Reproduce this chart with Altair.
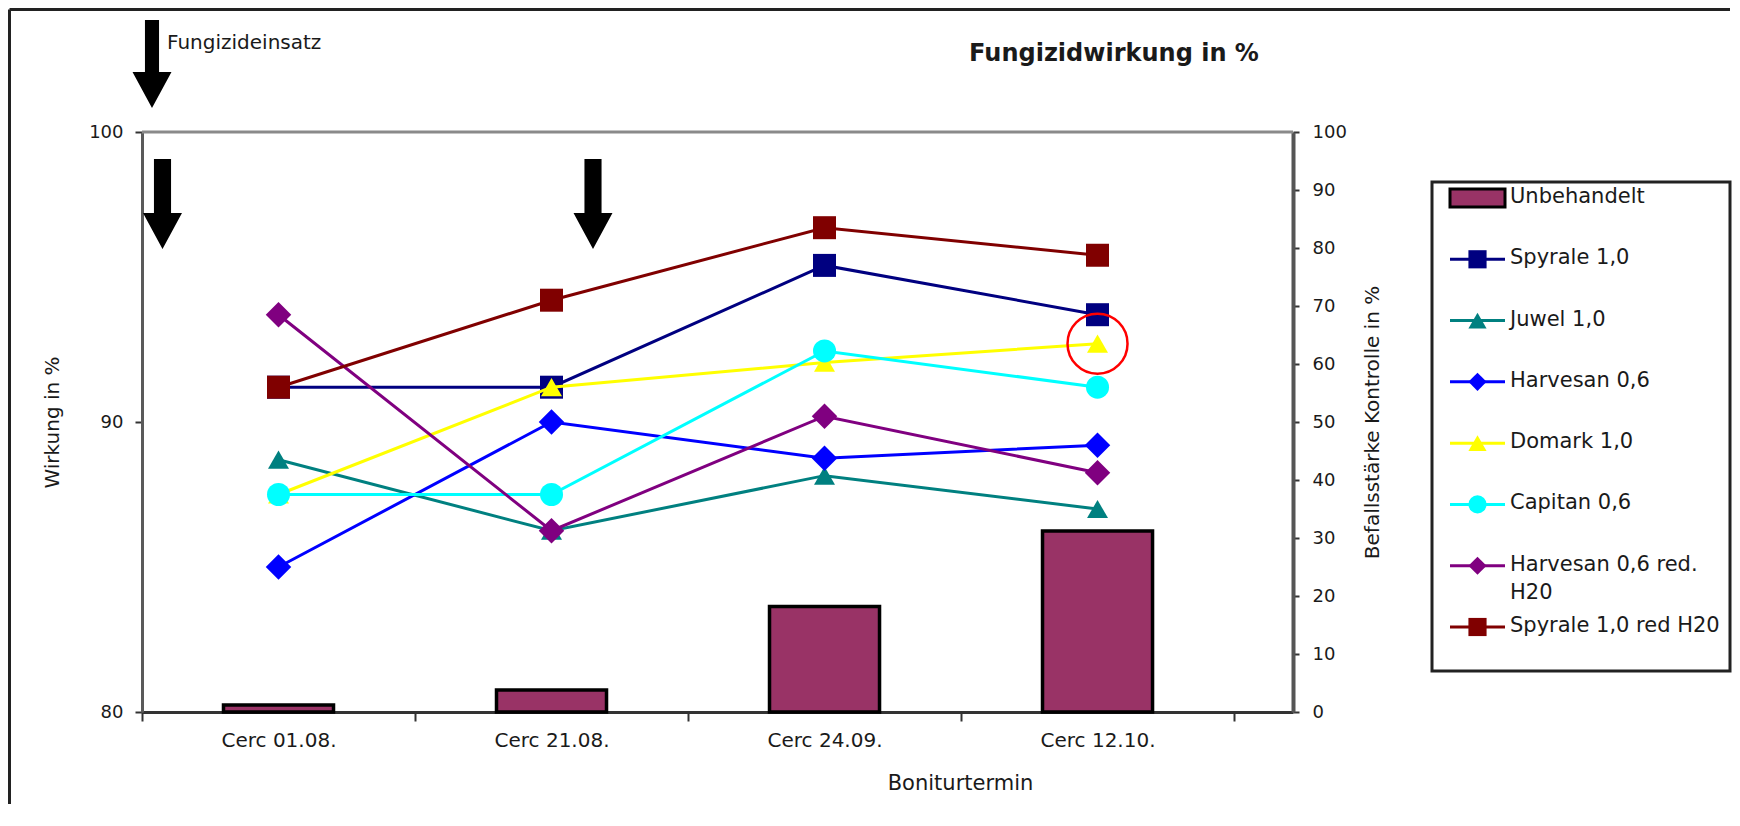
import altair as alt
import pandas as pd

# ---------------- data ----------------
categories = ["Cerc 01.08.", "Cerc 21.08.", "Cerc 24.09.", "Cerc 12.10."]
bar_name = "Unbehandelt"
unbehandelt = [1.2, 3.8, 18.2, 31.2]

series_names = ["Spyrale 1,0", "Juwel 1,0", "Harvesan 0,6", "Domark 1,0",
                "Capitan 0,6", "Harvesan 0,6 red. H20", "Spyrale 1,0 red H20"]
spyrale = [91.2, 91.2, 95.4, 93.7]
juwel = [88.7, 86.25, 88.15, 87.0]
harvesan = [85.0, 90.0, 88.75, 89.2]
domark = [87.5, 91.2, 92.05, 92.7]
capitan = [87.5, 87.5, 92.45, 91.2]
harvesan_red = [93.7, 86.25, 90.2, 88.25]
spyrale_red = [91.2, 94.2, 96.7, 95.75]
series_values = [spyrale, juwel, harvesan, domark, capitan, harvesan_red, spyrale_red]

series_colors = ["#000080", "#008080", "#0000FF", "#FFFF00", "#00FFFF", "#800080", "#800000"]
series_shapes = ["square", "triangle-up", "diamond", "triangle-up", "circle", "diamond", "square"]
shape_sizes = {"square": 529, "triangle-up": 440, "diamond": 650, "circle": 530}

legend_labels = ["Unbehandelt", "Spyrale 1,0", "Juwel 1,0", "Harvesan 0,6", "Domark 1,0",
                 "Capitan 0,6", "Harvesan 0,6 red.\nH20", "Spyrale 1,0 red H20"]

left_ticks = [80, 90, 100]
right_ticks = list(range(0, 101, 10))
highlight_cat, highlight_val = "Cerc 12.10.", 92.7

chart_title = "Fungizidwirkung in %"
arrow_label = "Fungizideinsatz"
x_title = "Boniturtermin"
y_left_title = "Wirkung in %"
y_right_title = "Befallsstärke Kontrolle in %"

# ---------------- layout ----------------
W, H = 1151, 580
FONT = "DejaVu Sans"
TXT = "#1a1a1a"

xscale = alt.Scale(type="band", domain=categories, paddingInner=0, paddingOuter=0.108, align=0)
x_axis = alt.Axis(tickBand="extent", labelAngle=0, labelFontSize=20, labelColor=TXT, labelPadding=9,
                  tickSize=9, tickColor="#333333", tickWidth=2, domainColor="#333333", domainWidth=3,
                  grid=False, titleFontSize=21, titleColor=TXT, titleFontWeight="normal",
                  titleX=818, titleY=71, titleBaseline="middle", titleAlign="center")
x_enc = alt.X("cat:N", scale=xscale, axis=x_axis, title=x_title)

left_axis = alt.Axis(orient="left", values=left_ticks, labelFontSize=18, labelColor=TXT, labelPadding=12,
                     tickSize=7, tickColor="#333333", tickWidth=2, domainColor="#5a5a5a", domainWidth=3,
                     grid=False, titleFontSize=20, titleColor=TXT, titleFontWeight="normal",
                     titleX=-90, titleY=290, titleAngle=270, titleBaseline="middle", titleAlign="center")
y_left = alt.Y("v:Q", scale=alt.Scale(domain=[80, 100], nice=False, zero=False), axis=left_axis,
               title=y_left_title)

right_axis = alt.Axis(orient="right", values=right_ticks, labelFontSize=18, labelColor=TXT, labelPadding=13,
                      tickSize=6, tickColor="#333333", tickWidth=2, domainColor="#555555", domainWidth=4,
                      grid=False, titleFontSize=20, titleColor=TXT, titleFontWeight="normal",
                      titleX=79, titleY=290, titleAngle=270, titleBaseline="middle", titleAlign="center")

# ---------------- bars ----------------
bar_df = pd.DataFrame({"cat": categories, "u": unbehandelt})
bars = alt.Chart(bar_df).mark_bar(
    width=alt.RelativeBandSize(0.403), color="#993366", stroke="#000000", strokeWidth=3.5
).encode(
    x=x_enc,
    y=alt.Y("u:Q", scale=alt.Scale(domain=[0, 100], nice=False), axis=right_axis, title=y_right_title),
)

# ---------------- lines ----------------
line_layers = []
for name, vals, col, shp in zip(series_names, series_values, series_colors, series_shapes):
    df = pd.DataFrame({"cat": categories, "v": vals, "serie": name})
    line_layers.append(
        alt.Chart(df).mark_line(
            color=col, strokeWidth=3,
            point=alt.OverlayMarkDef(shape=shp, size=shape_sizes[shp], filled=True, fill=col,
                                     color=col, opacity=1),
        ).encode(x=x_enc, y=y_left)
    )

hl_df = pd.DataFrame({"cat": [highlight_cat], "v": [highlight_val]})
red_circle = alt.Chart(hl_df).mark_point(
    shape="circle", size=3600, filled=False, stroke="#ff0000", strokeWidth=2.5, opacity=1
).encode(x=x_enc, y=y_left)

one = pd.DataFrame({"a": [0]})
top_border = alt.Chart(one).mark_rule(color="#8a8a8a", strokeWidth=3).encode(
    x=alt.value(0), x2=alt.value(W), y=alt.value(0))

lines = alt.layer(*line_layers, red_circle)
main = alt.layer(bars, lines).resolve_scale(y="independent")

# ---------------- legend + annotations ----------------
leg_y = alt.Scale(domain=[0, 7], range=[66, 495])

legend_box = alt.Chart(one).mark_rect(fill="white", stroke="#222222", strokeWidth=3).encode(
    x=alt.value(1290), x2=alt.value(1588), y=alt.value(50), y2=alt.value(539))

leg_bar_df = pd.DataFrame({"i": [0], "label": [bar_name]})
leg_bar = alt.Chart(leg_bar_df).mark_point(
    shape="M-1,-0.33H1V0.33H-1Z", size=3025, filled=True, fill="#993366", stroke="#000000",
    strokeWidth=3, opacity=1
).encode(x=alt.value(1335.5), y=alt.Y("i:Q", scale=leg_y, axis=None))

leg_df = pd.DataFrame({"i": list(range(1, 8)), "color": series_colors, "shape": series_shapes})
leg_lines = alt.Chart(leg_df).mark_rule(strokeWidth=3).encode(
    x=alt.value(1308), x2=alt.value(1363), y=alt.Y("i:Q", scale=leg_y, axis=None),
    color=alt.Color("color:N", scale=None))
leg_pts = alt.Chart(leg_df).mark_point(filled=True, size=330, opacity=1).encode(
    x=alt.value(1335.5), y=alt.Y("i:Q", scale=leg_y, axis=None),
    color=alt.Color("color:N", scale=None), shape=alt.Shape("shape:N", scale=None))

leg_txt_df = pd.DataFrame({"i": list(range(8)), "label": legend_labels})
leg_text = alt.Chart(leg_txt_df).mark_text(
    align="left", baseline="top", dy=-12, font=FONT, fontSize=21, color=TXT,
    lineBreak="\n", lineHeight=28
).encode(x=alt.value(1368), y=alt.Y("i:Q", scale=leg_y, axis=None), text="label:N")

border_left = alt.Chart(one).mark_rule(color="#222222", strokeWidth=3).encode(
    x=alt.value(-132.5), y=alt.value(-122.5), y2=alt.value(672))
border_top = alt.Chart(one).mark_rule(color="#222222", strokeWidth=3).encode(
    x=alt.value(-132.5), x2=alt.value(1588), y=alt.value(-122.5))

title_mark = alt.Chart(one).mark_text(
    font=FONT, fontSize=24, fontWeight="bold", color=TXT, align="center", baseline="middle"
).encode(x=alt.value(972), y=alt.value(-78), text=alt.value(chart_title))

arrow_text = alt.Chart(one).mark_text(
    font=FONT, fontSize=20, color=TXT, align="left", baseline="middle"
).encode(x=alt.value(25), y=alt.value(-89), text=alt.value(arrow_label))

top_arrow_path = "M-0.16,-1L0.16,-1L0.16,0.18L0.443,0.18L0,1L-0.443,0.18L-0.16,0.18Z"
in_arrow_path = "M-0.19,-1L0.19,-1L0.19,0.2L0.433,0.2L0,1L-0.433,0.2L-0.19,0.2Z"
arrow_top = alt.Chart(one).mark_point(shape=top_arrow_path, size=7744, filled=True, color="#000000",
                                      opacity=1, strokeWidth=0).encode(x=alt.value(10), y=alt.value(-68))
arrow_in1 = alt.Chart(one).mark_point(shape=in_arrow_path, size=8100, filled=True, color="#000000",
                                      opacity=1, strokeWidth=0).encode(x=alt.value(20.5), y=alt.value(72))
arrow_in2 = alt.Chart(one).mark_point(shape=in_arrow_path, size=8100, filled=True, color="#000000",
                                      opacity=1, strokeWidth=0).encode(x=alt.value(451), y=alt.value(72))

extras = alt.layer(border_left, border_top, top_border, title_mark, arrow_text, arrow_top,
                   arrow_in1, arrow_in2, legend_box, leg_bar, leg_lines, leg_pts, leg_text)

chart = alt.layer(main, extras).resolve_scale(x="independent", y="independent").properties(
    width=W, height=H, padding=0, background="white"
).configure_view(stroke=None).configure(font=FONT)

chart.save("out.html", embed_options={"renderer": "svg", "actions": False})
